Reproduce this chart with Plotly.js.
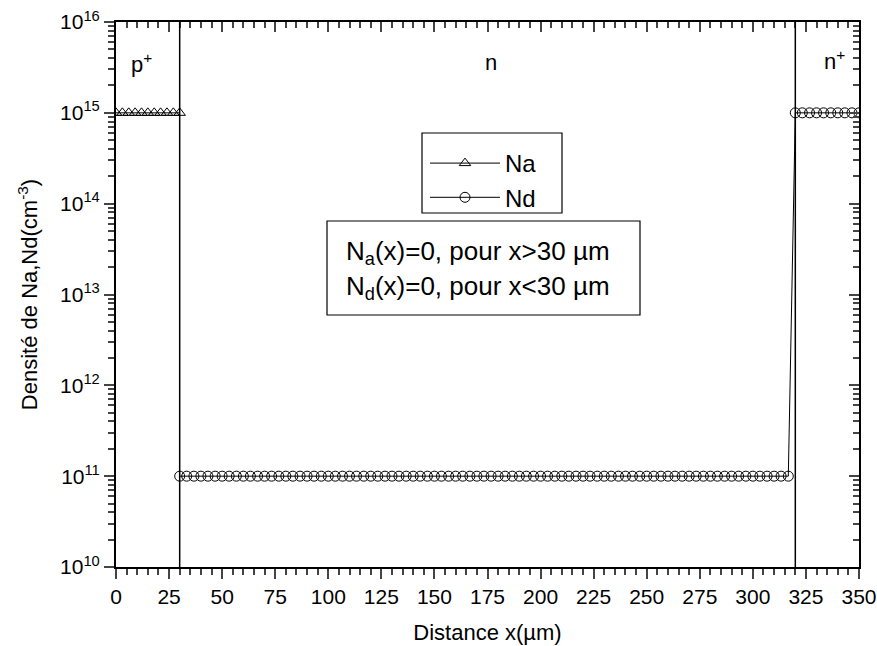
<!DOCTYPE html>
<html>
<head>
<meta charset="utf-8">
<script src="https://cdn.plot.ly/plotly-3.0.1.min.js"></script>
<style>
html,body{margin:0;padding:0;background:#fff;}
#chart{width:877px;height:646px;}
</style>
</head>
<body>
<div id="chart"></div>
<script>
// ---- data ----
const Na_x = [0,3,6,9,12,15,18,21,24,27,30];
const Na_y = [1e15,1e15,1e15,1e15,1e15,1e15,1e15,1e15,1e15,1e15,1e15];

const Nd_x = [30,33.3,36.7,40,43.3,46.7,50,53.3,56.7,60,63.3,66.7,70,73.3,76.7,80,83.3,86.7,90,93.3,96.7,
  100,103.3,106.7,110,113.3,116.7,120,123.3,126.7,130,133.3,136.7,140,143.3,146.7,150,153.3,156.7,160,163.3,166.7,
  170,173.3,176.7,180,183.3,186.7,190,193.3,196.7,200,203.3,206.7,210,213.3,216.7,220,223.3,226.7,230,233.3,236.7,
  240,243.3,246.7,250,253.3,256.7,260,263.3,266.7,270,273.3,276.7,280,283.3,286.7,290,293.3,296.7,300,303.3,306.7,
  310,313.3,316.7,
  320,323.3,326.7,330,333.3,336.7,340,343.3,346.7,350];
const Nd_y = [1e11,1e11,1e11,1e11,1e11,1e11,1e11,1e11,1e11,1e11,1e11,1e11,1e11,1e11,1e11,1e11,1e11,1e11,1e11,1e11,1e11,
  1e11,1e11,1e11,1e11,1e11,1e11,1e11,1e11,1e11,1e11,1e11,1e11,1e11,1e11,1e11,1e11,1e11,1e11,1e11,1e11,1e11,
  1e11,1e11,1e11,1e11,1e11,1e11,1e11,1e11,1e11,1e11,1e11,1e11,1e11,1e11,1e11,1e11,1e11,1e11,1e11,1e11,1e11,
  1e11,1e11,1e11,1e11,1e11,1e11,1e11,1e11,1e11,1e11,1e11,1e11,1e11,1e11,1e11,1e11,1e11,1e11,1e11,1e11,1e11,
  1e11,1e11,1e11,
  1e15,1e15,1e15,1e15,1e15,1e15,1e15,1e15,1e15,1e15];

const boundaries = [30, 320];
const regionLabels = ["p<sup>+</sup>", "n", "n<sup>+</sup>"];
const xTickVals = [0,25,50,75,100,125,150,175,200,225,250,275,300,325,350];
const yTickVals = [1e10,1e11,1e12,1e13,1e14,1e15,1e16];
const yTickText = ["10<sup>10</sup>","10<sup>11</sup>","10<sup>12</sup>","10<sup>13</sup>","10<sup>14</sup>","10<sup>15</sup>","10<sup>16</sup>"];
const noteLines = ["N<sub>a</sub>(x)=0, pour x>30 µm", "N<sub>d</sub>(x)=0, pour x<30 µm"];

// ---- layout helpers ----
const L = 116, R = 859, T = 22, B = 567;
const W = R - L, H = B - T;
const px = v => (v - L) / W;
const py = v => (B - v) / H;
const FONT = "Liberation Sans, Arial, sans-serif";

const traces = [
  {x: Na_x, y: Na_y, name: "Na", mode: "lines+markers", type: "scatter",
   line: {color: "#000", width: 1},
   marker: {symbol: "triangle-up-open", size: 10, color: "#000", line: {width: 1}}},
  {x: Nd_x, y: Nd_y, name: "Nd", mode: "lines+markers", type: "scatter",
   line: {color: "#000", width: 1},
   marker: {symbol: "circle-open", size: 10, color: "#000", line: {width: 1}}},
  {x: [null], y: [null], xaxis: "x2", yaxis: "y2", showlegend: false, hoverinfo: "skip", type: "scatter"}
];

const shapes = boundaries.map(b => ({type: "line", xref: "x", yref: "paper", x0: b, x1: b, y0: 0, y1: 1,
  line: {color: "#000", width: 1.5}}));
shapes.push({type: "rect", xref: "paper", yref: "paper", x0: px(422), x1: px(562), y0: py(213), y1: py(133),
  line: {color: "#000", width: 1.2}, fillcolor: "rgba(0,0,0,0)"});
shapes.push({type: "rect", xref: "paper", yref: "paper", x0: px(327), x1: px(640), y0: py(315), y1: py(221),
  line: {color: "#000", width: 1.2}, fillcolor: "rgba(0,0,0,0)"});

const regionFont = {size: 22, family: FONT, color: "#000"};
const noteFont = {size: 26, family: FONT, color: "#000"};
const annotations = [
  {text: regionLabels[0], x: px(141), y: py(63), xref: "paper", yref: "paper", xanchor: "center", yanchor: "middle", showarrow: false, font: regionFont},
  {text: regionLabels[1], x: px(491), y: py(62), xref: "paper", yref: "paper", xanchor: "center", yanchor: "middle", showarrow: false, font: regionFont},
  {text: regionLabels[2], x: px(834), y: py(60), xref: "paper", yref: "paper", xanchor: "center", yanchor: "middle", showarrow: false, font: regionFont},
  {text: noteLines[0], x: px(344), y: py(252), xref: "paper", yref: "paper", xanchor: "left", yanchor: "middle", showarrow: false, font: noteFont},
  {text: noteLines[1], x: px(344), y: py(287), xref: "paper", yref: "paper", xanchor: "left", yanchor: "middle", showarrow: false, font: noteFont}
];

const layout = {
  width: 877, height: 646,
  margin: {l: L, r: 877 - R, t: T, b: 646 - B},
  paper_bgcolor: "#fff", plot_bgcolor: "#fff",
  font: {family: FONT, color: "#000", size: 20},
  showlegend: true,
  legend: {x: px(425), y: py(141), xanchor: "left", yanchor: "top", bgcolor: "rgba(0,0,0,0)",
    borderwidth: 0, itemwidth: 70, font: {size: 24, family: FONT}, tracegroupgap: 0},
  xaxis: {range: [0, 350], tickvals: xTickVals, ticks: "outside", ticklen: 10, tickwidth: 2,
    minor: {dtick: 5, ticks: "outside", ticklen: 6, tickwidth: 2, showgrid: false},
    showline: true, linewidth: 2, linecolor: "#000", showgrid: false, zeroline: false,
    tickfont: {size: 21}, title: {text: "Distance x(µm)", font: {size: 22}, standoff: 17}},
  yaxis: {type: "log", range: [10, 16], tickvals: yTickVals, ticktext: yTickText,
    ticks: "outside", ticklen: 10, tickwidth: 2,
    minor: {dtick: "D1", ticks: "outside", ticklen: 6, tickwidth: 2, showgrid: false},
    showline: true, linewidth: 2, linecolor: "#000", showgrid: false, zeroline: false,
    tickfont: {size: 21}, title: {text: "Densité de Na,Nd(cm<sup>-3</sup>)", font: {size: 22}, standoff: 16}},
  xaxis2: {overlaying: "x", side: "top", range: [0, 350], tickvals: xTickVals, ticks: "inside", ticklen: 10, tickwidth: 2,
    minor: {dtick: 5, ticks: "inside", ticklen: 6, tickwidth: 2, showgrid: false},
    showticklabels: false, showline: true, linewidth: 2, linecolor: "#000", showgrid: false, zeroline: false},
  yaxis2: {overlaying: "y", side: "right", type: "log", range: [10, 16], tickvals: yTickVals, ticks: "inside", ticklen: 10, tickwidth: 2,
    minor: {dtick: "D1", ticks: "inside", ticklen: 6, tickwidth: 2, showgrid: false},
    showticklabels: false, showline: true, linewidth: 2, linecolor: "#000", showgrid: false, zeroline: false},
  shapes: shapes,
  annotations: annotations
};

Plotly.newPlot("chart", traces, layout, {displayModeBar: false, staticPlot: true});
</script>
</body>
</html>
